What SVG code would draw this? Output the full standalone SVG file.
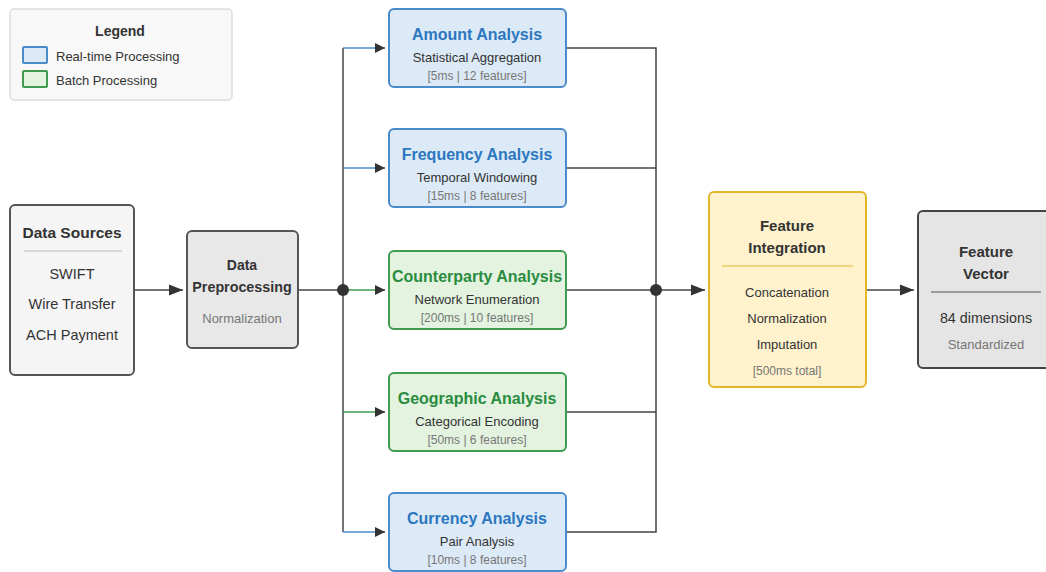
<svg xmlns="http://www.w3.org/2000/svg" width="1046" height="572" viewBox="0 0 1046 572">
<defs>
<style>
text{font-family:"Liberation Sans",Arial,sans-serif;text-anchor:middle;fill:#333}
.t{font-size:15px;font-weight:bold}
.at{font-size:16px;font-weight:bold}
.s{font-size:13px}
.si{font-size:14.5px}
.d{font-size:12px;fill:#777}
.g{font-size:13px;fill:#777}
.bt{fill:#2b77c0}
.gt{fill:#2a8c3f}
.blue{fill:#dce9f6;stroke:#4a8bcb;stroke-width:2}
.green{fill:#e3f3df;stroke:#3f9b50;stroke-width:2}
.ln{stroke:#444;stroke-width:1.5;fill:none}
.bl{stroke:#4a8bcb;stroke-width:1.5;fill:none}
.gl{stroke:#3f9b50;stroke-width:1.5;fill:none}
</style>
<marker id="ah" viewBox="0 0 10 10" refX="10" refY="5" markerWidth="10" markerHeight="10" markerUnits="userSpaceOnUse" orient="auto">
<path d="M0,0 L10,5 L0,10 z" fill="#333"/>
</marker>
<marker id="ahL" viewBox="0 0 10 10" refX="10" refY="5" markerWidth="14" markerHeight="14" markerUnits="userSpaceOnUse" orient="auto">
<path d="M0,1 L10,5 L0,9 z" fill="#333"/>
</marker>
</defs>

<g id="legend">
<rect x="10" y="9" width="222" height="91" rx="4" fill="#f8f8f8" stroke="#ddd" stroke-width="1.5"/>
<text x="120" y="36" style="font-size:14px;font-weight:bold">Legend</text>
<rect x="23" y="47" width="24" height="16" rx="1" class="blue" stroke-width="1.5"/>
<text x="56" y="61" style="font-size:13px;text-anchor:start">Real-time Processing</text>
<rect x="23" y="71" width="24" height="16" rx="1" class="green" stroke-width="1.5"/>
<text x="56" y="85" style="font-size:13px;text-anchor:start">Batch Processing</text>
</g>

<g id="connectors">
<line x1="134" y1="290" x2="183" y2="290" class="ln" stroke-width="2" marker-end="url(#ahL)"/>
<line x1="298" y1="290" x2="343" y2="290" class="ln"/>
<line x1="343" y1="48" x2="343" y2="532" class="ln"/>
<line x1="343" y1="48" x2="376" y2="48" class="bl"/>
<line x1="376" y1="48" x2="385" y2="48" class="ln" marker-end="url(#ah)"/>
<line x1="343" y1="168" x2="376" y2="168" class="bl"/>
<line x1="376" y1="168" x2="385" y2="168" class="ln" marker-end="url(#ah)"/>
<line x1="343" y1="290" x2="376" y2="290" class="gl"/>
<line x1="376" y1="290" x2="385" y2="290" class="ln" marker-end="url(#ah)"/>
<line x1="343" y1="412" x2="376" y2="412" class="gl"/>
<line x1="376" y1="412" x2="385" y2="412" class="ln" marker-end="url(#ah)"/>
<line x1="343" y1="532" x2="376" y2="532" class="bl"/>
<line x1="376" y1="532" x2="385" y2="532" class="ln" marker-end="url(#ah)"/>
<circle cx="343" cy="290" r="6" fill="#333"/>
<polyline points="566,48 656,48 656,532 566,532" class="ln"/>
<line x1="566" y1="168" x2="656" y2="168" class="ln"/>
<line x1="566" y1="290" x2="656" y2="290" class="ln"/>
<line x1="566" y1="412" x2="656" y2="412" class="ln"/>
<line x1="656" y1="290" x2="705" y2="290" class="ln" stroke-width="2" marker-end="url(#ahL)"/>
<circle cx="656" cy="290" r="6" fill="#333"/>
<line x1="866" y1="290" x2="914" y2="290" class="ln" stroke-width="2" marker-end="url(#ahL)"/>
</g>

<g id="data-sources">
<rect x="10" y="205" width="124" height="170" rx="5" fill="#f5f5f5" stroke="#555" stroke-width="2"/>
<text x="72" y="238" style="font-size:15.5px;font-weight:bold">Data Sources</text>
<line x1="24" y1="251" x2="122" y2="251" stroke="#ccc" stroke-width="1.5"/>
<text x="72" y="279" class="si">SWIFT</text>
<text x="72" y="309" class="si">Wire Transfer</text>
<text x="72" y="340" class="si">ACH Payment</text>
</g>

<g id="data-preprocessing">
<rect x="187" y="231" width="111" height="117" rx="5" fill="#e8e8e8" stroke="#555" stroke-width="2"/>
<text x="242" y="270" style="font-size:14px;font-weight:bold">Data</text>
<text x="242" y="292" style="font-size:14.3px;font-weight:bold">Preprocessing</text>
<text x="242" y="323" class="g">Normalization</text>
</g>

<g id="amount-analysis">
<rect x="389" y="9" width="177" height="78" rx="5" class="blue"/>
<text x="477" y="39.5" class="at bt">Amount Analysis</text>
<text x="477" y="61.5" class="s">Statistical Aggregation</text>
<text x="477" y="80" class="d">[5ms | 12 features]</text>
</g>

<g id="frequency-analysis">
<rect x="389" y="129" width="177" height="78" rx="5" class="blue"/>
<text x="477" y="159.5" class="at bt">Frequency Analysis</text>
<text x="477" y="181.5" class="s">Temporal Windowing</text>
<text x="477" y="200" class="d">[15ms | 8 features]</text>
</g>

<g id="counterparty-analysis">
<rect x="389" y="251" width="177" height="78" rx="5" class="green"/>
<text x="477" y="281.5" class="at gt">Counterparty Analysis</text>
<text x="477" y="303.5" class="s">Network Enumeration</text>
<text x="477" y="322" class="d">[200ms | 10 features]</text>
</g>

<g id="geographic-analysis">
<rect x="389" y="373" width="177" height="78" rx="5" class="green"/>
<text x="477" y="403.5" class="at gt">Geographic Analysis</text>
<text x="477" y="425.5" class="s">Categorical Encoding</text>
<text x="477" y="444" class="d">[50ms | 6 features]</text>
</g>

<g id="currency-analysis">
<rect x="389" y="493" width="177" height="78" rx="5" class="blue"/>
<text x="477" y="523.5" class="at bt">Currency Analysis</text>
<text x="477" y="545.5" class="s">Pair Analysis</text>
<text x="477" y="564" class="d">[10ms | 8 features]</text>
</g>

<g id="feature-integration">
<rect x="709" y="192" width="157" height="195" rx="5" fill="#fff2cc" stroke="#e3b72c" stroke-width="2"/>
<text x="787" y="231" class="t">Feature</text>
<text x="787" y="253" class="t">Integration</text>
<line x1="722" y1="266" x2="853" y2="266" stroke="#e3b72c" stroke-width="1.2"/>
<text x="787" y="297" class="s">Concatenation</text>
<text x="787" y="323" class="s">Normalization</text>
<text x="787" y="349" class="s">Imputation</text>
<text x="787" y="375" class="d">[500ms total]</text>
</g>

<g id="feature-vector">
<rect x="918" y="211" width="136" height="157" rx="5" fill="#e5e5e5" stroke="#444" stroke-width="2"/>
<text x="986" y="257" class="t">Feature</text>
<text x="986" y="279" class="t">Vector</text>
<line x1="931" y1="292" x2="1041" y2="292" stroke="#555" stroke-width="1.2"/>
<text x="986" y="323" style="font-size:14.3px">84 dimensions</text>
<text x="986" y="349" class="g">Standardized</text>
</g>
</svg>
